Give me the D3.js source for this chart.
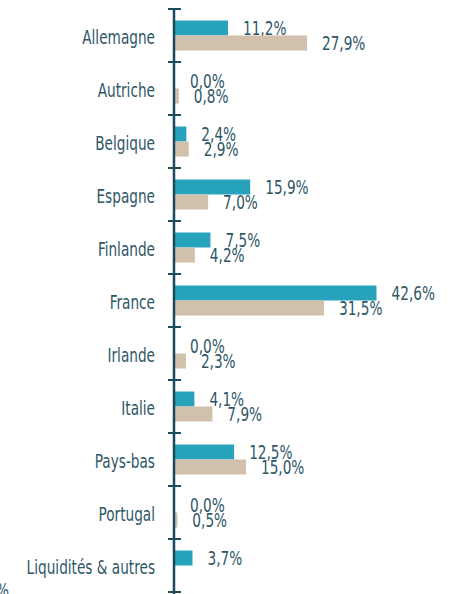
<!DOCTYPE html>
<html><head><meta charset="utf-8">
<script src="https://cdn.jsdelivr.net/npm/d3@7"></script>
<style>
html,body{margin:0;padding:0;background:#fff;overflow:hidden}
text{font-family:"DejaVu Sans Condensed","DejaVu Sans",sans-serif;font-stretch:condensed;}
</style></head>
<body><svg id="c" width="452" height="594"></svg>
<script>
const categories = ["Allemagne","Autriche","Belgique","Espagne","Finlande","France","Irlande","Italie","Pays-bas","Portugal","Liquidités & autres"];
const seriesFonds = [11.2,0.0,2.4,15.9,7.5,42.6,0.0,4.1,12.5,0.0,3.7];
const seriesIndice = [27.9,0.8,2.9,7.0,4.2,31.5,2.3,7.9,15.0,0.5,null];
const colors = ["#27a3bb","#d0c0ac"];

const svg = d3.select("#c");
const y = d3.scaleBand().domain(categories).range([9,592]).padding(0);
const x = d3.scaleLinear().domain([0,45]).range([175,175+45*4.73]);
const barH = 15;
const fmt = v => d3.format(".1f")(v).replace(".", ",") + "%";
const textCol = "#2f5767";
const axisCol = "#1d4a5b";
const FS = 19, SX = 0.8;

function label(sel, tx, ty, str, anchor){
  return sel.append("text")
    .attr("transform", `translate(${tx},${ty}) scale(${SX},1)`)
    .attr("dy","0.36em").attr("text-anchor", anchor||"start")
    .attr("fill", textCol).attr("font-size", FS).text(str);
}

const data = categories.map((c,i)=>({c, vals:[seriesFonds[i], seriesIndice[i]]}));

const g = svg.append("g");
data.forEach(d=>{
  d.vals.forEach((v,k)=>{
    if(v===null) return;
    const yc = y(d.c) + y.bandwidth()/2;
    const top = k===0 ? yc - barH : yc;
    g.append("rect").attr("x", x(0)).attr("y", top)
      .attr("width", Math.max(0, x(v)-x(0))).attr("height", barH)
      .attr("fill", colors[k]);
    label(g, x(v)+15, top + barH/2 + 0.5, fmt(v));
  });
  label(g, 155, y(d.c)+y.bandwidth()/2+1.5, d.c, "end");
});

// axis line with ticks at band boundaries
const bounds = categories.map(c=>y(c)).concat([y.range()[1]]);
svg.append("line").attr("x1",174).attr("x2",174).attr("y1",bounds[0]).attr("y2",594)
  .attr("stroke",axisCol).attr("stroke-width",2.5);
svg.selectAll(".tk").data(bounds).enter().append("line")
  .attr("x1",168).attr("x2",181).attr("y1",d=>d).attr("y2",d=>d)
  .attr("stroke",axisCol).attr("stroke-width",2);

svg.append("text").attr("transform","translate(-4,597) scale(0.8,1)").attr("fill",textCol).attr("font-size",FS).text("%");
</script></body></html>
